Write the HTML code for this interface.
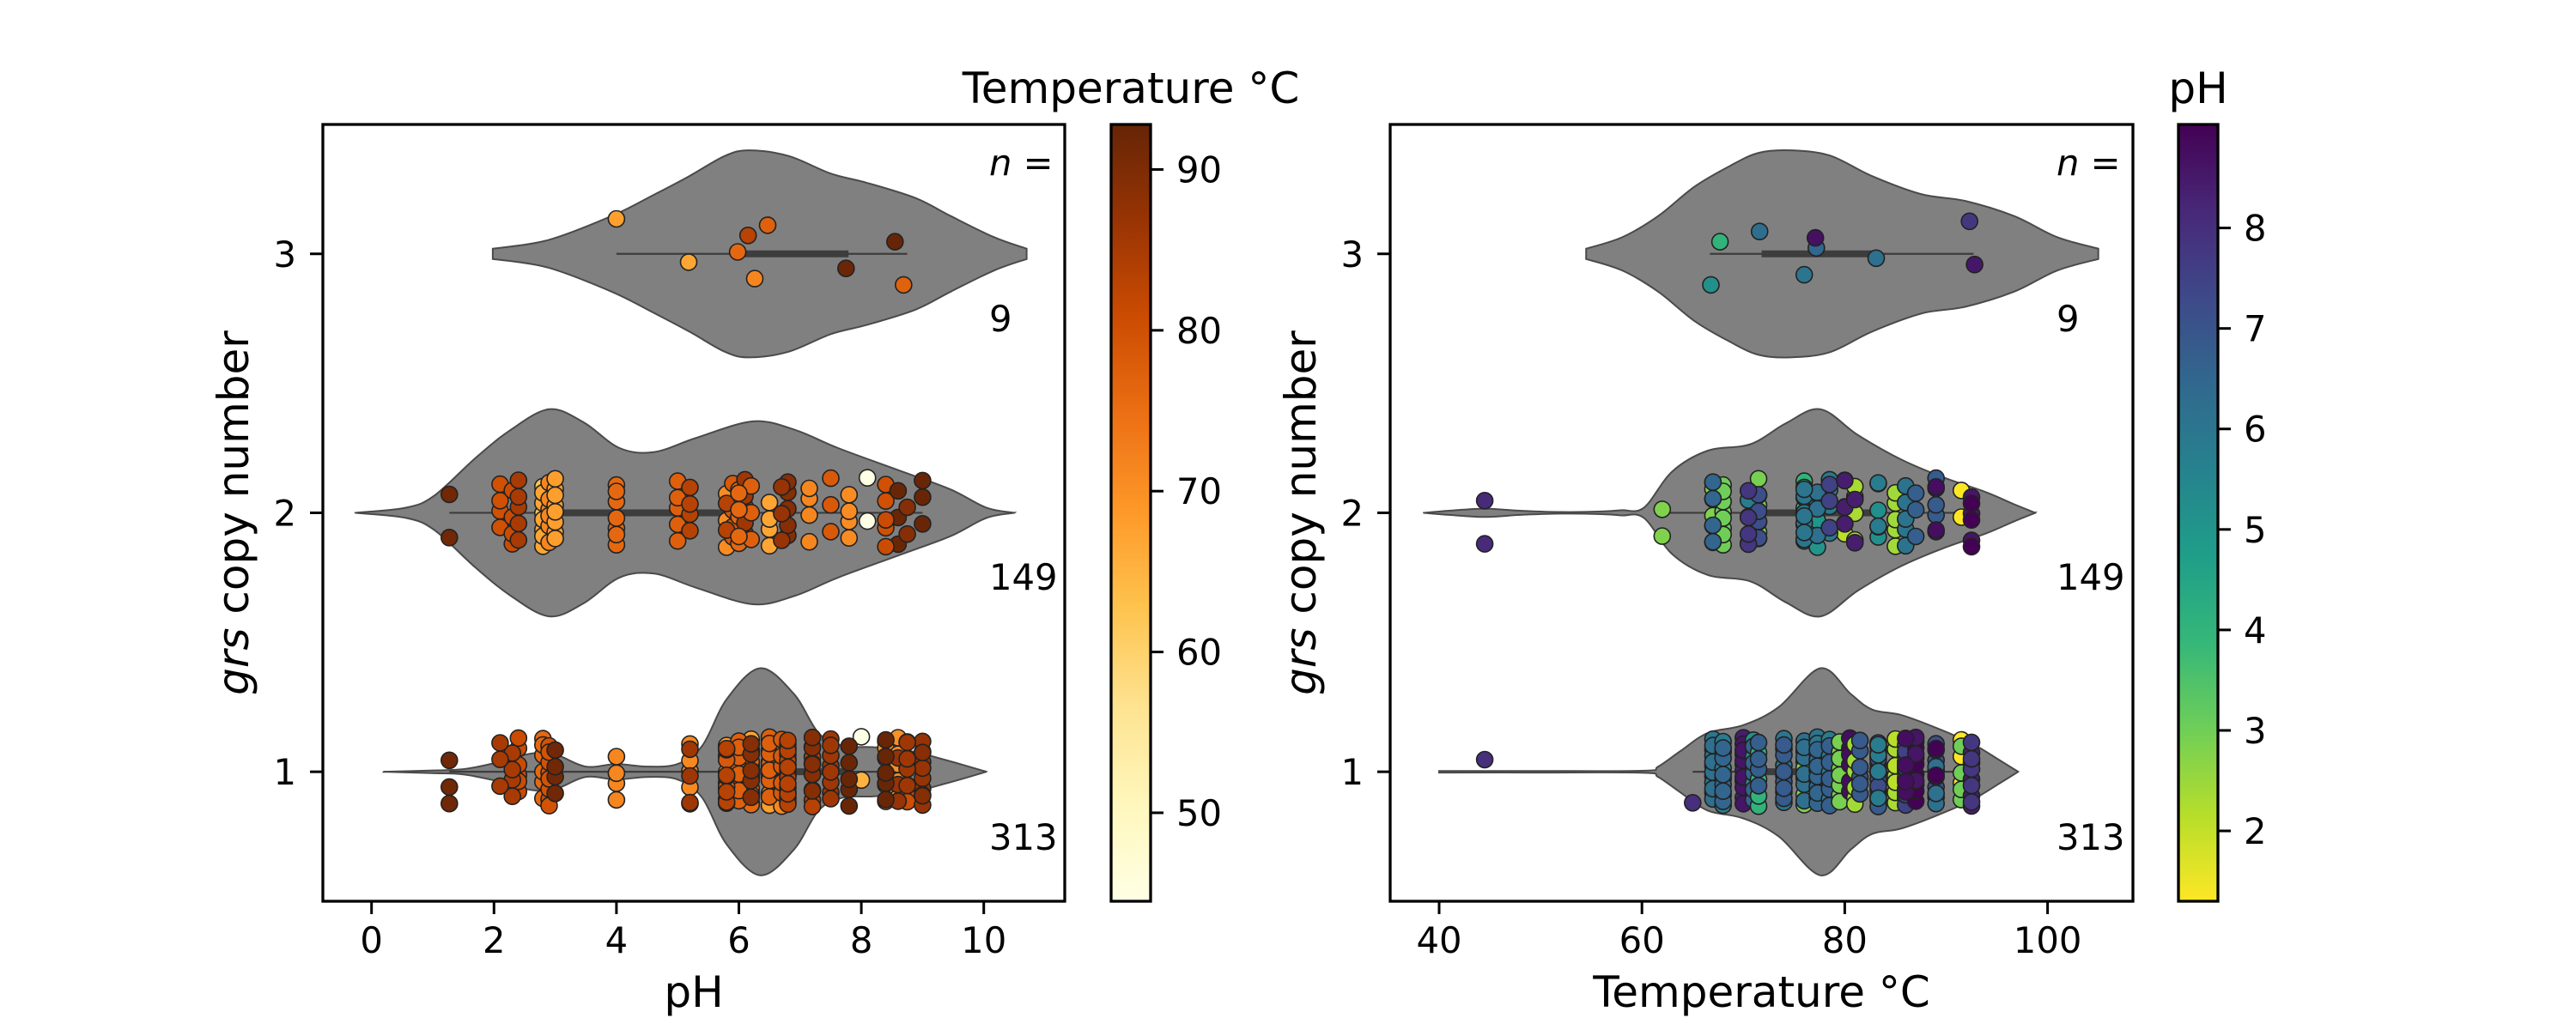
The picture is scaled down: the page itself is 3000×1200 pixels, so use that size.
<!DOCTYPE html>
<html><head><meta charset="utf-8"><style>
html,body{margin:0;padding:0;background:#fff;}
svg{display:block;font-family:"DejaVu Sans","Liberation Sans",sans-serif;}
</style></head><body>
<svg id="fig" width="3000" height="1200" viewBox="0 0 3000 1200" xmlns="http://www.w3.org/2000/svg">
<defs>
<linearGradient id="gradT" x1="0" y1="1" x2="0" y2="0">
<stop offset="0" stop-color="#ffffe5"/><stop offset="0.125" stop-color="#fff7bc"/><stop offset="0.25" stop-color="#fee391"/><stop offset="0.375" stop-color="#fec44f"/><stop offset="0.5" stop-color="#fe9929"/><stop offset="0.625" stop-color="#ec7014"/><stop offset="0.75" stop-color="#cc4c02"/><stop offset="0.875" stop-color="#993404"/><stop offset="1" stop-color="#662506"/>
</linearGradient>
<linearGradient id="gradP" x1="0" y1="0" x2="0" y2="1">
<stop offset="0" stop-color="#440154"/><stop offset="0.111" stop-color="#482878"/><stop offset="0.222" stop-color="#3e4989"/><stop offset="0.333" stop-color="#31688e"/><stop offset="0.444" stop-color="#26828e"/><stop offset="0.555" stop-color="#1f9e89"/><stop offset="0.666" stop-color="#35b779"/><stop offset="0.777" stop-color="#6ece58"/><stop offset="0.888" stop-color="#b5de2b"/><stop offset="1" stop-color="#fde725"/>
</linearGradient>
<clipPath id="clipL"><rect x="376" y="145" width="864" height="905"/></clipPath>
<clipPath id="clipR"><rect x="1619" y="145" width="865" height="905"/></clipPath>
</defs>
<g id="left"></g>
<g id="right"></g>
</svg>
<script>
// ---- data ----
const copyTicks=[1,2,3];
const phTicks=[0,2,4,6,8,10];
const tempTicks=[40,60,80,100];
const tempCbarTicks=[50,60,70,80,90];
const phCbarTicks=[2,3,4,5,6,7,8];
const groups=[3,2,1];
const nLabels=["9","149","313"];
const tempRange=[44.5,92.8];
const phRange=[1.3,9.03];
// violin density outlines (value positions, half widths in copy-number units)
const phViolinX3=[1.98,2.88,3.92,4.61,5.19,5.77,6.17,6.81,7.50,8.08,8.88,9.46,10.16,10.70];
const phViolinW3=[0.02,0.053,0.146,0.228,0.30,0.378,0.40,0.378,0.31,0.275,0.216,0.146,0.065,0.02];
const phViolinX2=[-0.26,0.57,1.03,1.69,2.27,2.90,3.46,4.05,4.62,5.31,6.23,6.92,7.62,8.66,9.46,10.04,10.50];
const phViolinW2=[0,0.02,0.067,0.21,0.32,0.40,0.35,0.25,0.235,0.29,0.353,0.32,0.25,0.16,0.09,0.02,0];
const phViolinX1=[0.2,1.0,1.5,2.0,2.6,3.0,3.5,4.0,4.5,5.0,5.4,5.8,6.35,6.9,7.3,7.7,8.2,8.8,9.4,10.04];
const phViolinW1=[0,0.005,0.01,0.033,0.07,0.067,0.02,0.03,0.02,0.03,0.10,0.28,0.40,0.30,0.15,0.10,0.095,0.08,0.044,0];
const tempViolinX3=[54.5,58.1,61.6,65.2,68.7,71.5,74.6,78.5,82.7,87.6,91.8,96.7,100.9,105.0];
const tempViolinW3=[0.02,0.065,0.146,0.26,0.34,0.39,0.40,0.38,0.30,0.23,0.205,0.146,0.065,0.02];
const tempViolinX2=[38.5,41,44.5,48,52,56,58,60.2,63,66.5,70.7,74.2,77.6,81.3,85.5,89.7,93.9,96.7,98.8];
const tempViolinW2=[0,0.008,0.016,0.008,0.003,0.005,0.01,0.02,0.16,0.24,0.265,0.346,0.40,0.30,0.207,0.137,0.08,0.033,0];
const tempViolinX1=[40,50,60.2,61.6,63.8,66.5,70,73.5,77.6,80.6,82.7,85.5,89,92.5,95.3,97.1];
const tempViolinW1=[0.003,0.003,0.004,0.02,0.08,0.15,0.18,0.25,0.40,0.30,0.24,0.22,0.17,0.11,0.044,0];
// box stats [whiskerLow, q1, q3, whiskerHigh]
const phBox3=[4.0,5.94,7.79,8.75];
const phBox2=[1.27,3.0,5.8,9.0];
const phBox1=[1.27,5.9,7.8,9.0];
const tempBox3=[66.7,71.8,83.3,92.7];
const tempBox2=[62,71.5,83.3,92.5];
const tempBox1=[65,70,82,92.5];
// samples: [pH, temperature, count]
const samples3=[[4.0,67.7,1],[5.18,66.8,1],[6.15,83.1,1],[6.26,71.6,1],[5.98,76.0,1],[6.47,77.2,1],[7.75,92.3,1],[8.55,92.8,1],[8.69,77.1,1]];
const samples2=[[8.1,44.5,2],[1.27,91.5,2],[2.1,80,4],[2.3,81,4],[2.4,85,5],[2.8,62,2],[2.8,67,6],[2.9,71.5,6],[3.0,68,8],[4.0,76,7],[5.0,77.3,5],[5.2,83.3,4],[5.8,70.5,3],[5.9,78.5,4],[6.0,76,4],[6.1,86,5],[6.2,77.3,3],[6.5,67,4],[6.8,89,5],[7.15,71.5,4],[7.5,78.5,3],[7.8,70.5,4],[8.4,80,3],[8.6,92.5,3],[8.75,89,2],[9.0,92.5,3],[6.7,87,3],[5.8,83.3,2],[8.4,81,2],[6.0,76,3]];
const samples1=[[8.0,44.5,1],[8.0,65,1],[6.0,67,6],[6.2,67,6],[5.8,68,6],[6.5,68,6],[8.4,70,6],[8.6,70,6],[5.2,71,5],[6.5,71,5],[4.0,71.5,4],[6.7,71.5,4],[6.0,74,6],[6.8,74,6],[2.8,76,6],[6.2,76,6],[6.0,77.3,8],[6.5,77.3,7],[5.8,78.5,5],[6.7,78.5,5],[2.9,79.5,8],[8.75,80.5,6],[2.4,81,6],[6.8,81.5,6],[6.8,83.3,7],[7.2,83.3,7],[2.3,85,4],[2.1,85,3],[5.2,86,3],[7.5,86,8],[9.0,87,8],[8.6,87,3],[7.2,89,5],[6.2,89,5],[1.27,91.5,3],[3.0,91.5,4],[8.4,92.5,5],[7.8,92.5,5],[9.0,89,2],[8.75,86,4],[5.8,83.3,4]];

// ---- scales ----
const yC=v=>1050-(v-0.5)*301.7;
const xL=v=>432.7+v*71.3;
const xR=v=>1676+(v-40)*11.81;
const NS="http://www.w3.org/2000/svg";
function mk(tag,attrs,parent){const e=document.createElementNS(NS,tag);for(const k in attrs)e.setAttribute(k,attrs[k]);parent.appendChild(e);return e;}
function lerpStops(stops,t){t=Math.max(0,Math.min(1,t));const n=stops.length-1;const i=Math.min(n-1,Math.floor(t*n));const f=t*n-i;
 const a=stops[i],b=stops[i+1];const h=s=>[parseInt(s.slice(1,3),16),parseInt(s.slice(3,5),16),parseInt(s.slice(5,7),16)];
 const A=h(a),B=h(b);return "rgb("+A.map((c,k)=>Math.round(c+(B[k]-c)*f)).join(",")+")";}
const ylorbr=["#ffffe5","#fff7bc","#fee391","#fec44f","#fe9929","#ec7014","#cc4c02","#993404","#662506"];
const viridis=["#440154","#482878","#3e4989","#31688e","#26828e","#1f9e89","#35b779","#6ece58","#b5de2b","#fde725"];
const tempColor=t=>lerpStops(ylorbr,(t-tempRange[0])/(tempRange[1]-tempRange[0]));
const phColor=p=>lerpStops(viridis,1-(p-phRange[0])/(phRange[1]-phRange[0]));

function smoothPath(pts){let d="M"+pts[0][0]+","+pts[0][1];
 for(let i=0;i<pts.length-1;i++){const p0=pts[Math.max(0,i-1)],p1=pts[i],p2=pts[i+1],p3=pts[Math.min(pts.length-1,i+2)];
  const c1=[p1[0]+(p2[0]-p0[0])/6,p1[1]+(p2[1]-p0[1])/6],c2=[p2[0]-(p3[0]-p1[0])/6,p2[1]-(p3[1]-p1[1])/6];
  d+=" C"+c1[0].toFixed(1)+","+c1[1].toFixed(1)+" "+c2[0].toFixed(1)+","+c2[1].toFixed(1)+" "+p2[0].toFixed(1)+","+p2[1].toFixed(1);}
 return d;}
function violin(g,xs,ws,sx,grp,name){
 const up=xs.map((v,i)=>[sx(v),yC(grp)-ws[i]*301.7]);
 const lo=xs.map((v,i)=>[sx(v),yC(grp)+ws[i]*301.7]).reverse();
 const d=smoothPath(up)+" L"+lo[0][0]+","+lo[0][1]+smoothPath(lo).replace(/^M[^ C]+/,"")+" Z";
 const p=mk("path",{d:d,fill:"#808080",stroke:"#4a4a4a","stroke-width":"2"},g);
 
 
}
function box(g,b,sx,grp,name){
 const y=yC(grp);
 const w=mk("line",{x1:sx(b[0]),x2:sx(b[3]),y1:y,y2:y,stroke:"#3d3d3d","stroke-width":"2.2"},g);
 
 
 const r=mk("line",{x1:sx(b[1]),x2:sx(b[2]),y1:y,y2:y,stroke:"#3d3d3d","stroke-width":"8"},g);
 
 
}
function points(g,samples,grp,byPh,seed,name){
 let i=0;
 samples.forEach(s=>{for(let k=0;k<s[2];k++){
  const j=((((i+seed)*0.6180339887)%1)-0.5)*0.27;i++;
  const cx=byPh?xL(s[0]):xR(s[1]);
  const fill=byPh?tempColor(s[1]):phColor(s[0]);
  const c=mk("circle",{cx:cx.toFixed(1),cy:(yC(grp)+j*301.7).toFixed(1),r:"9.5",fill:fill,stroke:"#222","stroke-width":"1.6"},g);
  
  
 }});
}
function text(g,x,y,str,size,anchor,name,extra){
 const t=mk("text",Object.assign({x:x,y:y,"font-size":size,"text-anchor":anchor,fill:"#000"},extra||{}),g);
 t.textContent=str;
 
 
 return t;
}
function panel(g,ax0,ax1,sx,ticks,xlabel,clip,vx,vw,boxes,byPh,cbX,cbGrad,cbTicks,cbScale,cbTitle){
 const pg=mk("g",{"clip-path":"url(#"+clip+")"},g);
 
 
 const all=[samples3,samples2,samples1];
 groups.forEach((grp,gi)=>{
  violin(pg,vx[gi],vw[gi],sx,grp,'violin-'+grp);
  box(pg,boxes[gi],sx,grp,'boxplot-'+grp);
 });
 groups.forEach((grp,gi)=>points(pg,all[gi],grp,byPh,byPh?0:7,'point-copy'+grp));
 const fr=mk("rect",{x:ax0,y:145,width:ax1-ax0,height:905,fill:"none",stroke:"#000","stroke-width":"3.3"},g);
 
 
 ticks.forEach(t=>{
  const l=mk("line",{x1:sx(t),x2:sx(t),y1:1050,y2:1065,stroke:"#000","stroke-width":"3"},g);
  
  
  text(g,sx(t),1110,String(t),41.7,"middle",'x-tick-label');
 });
 copyTicks.forEach(t=>{
  const l=mk("line",{x1:ax0-15,x2:ax0,y1:yC(t),y2:yC(t),stroke:"#000","stroke-width":"3"},g);
  
  
  text(g,ax0-31,yC(t)+15,String(t),41.7,"end",'y-tick-label');
 });
 text(g,(ax0+ax1)/2,1173,xlabel,50,"middle",'x-axis-title');
 const yl=mk("text",{x:0,y:0,"font-size":50,"text-anchor":"middle",transform:"translate("+(ax0-87)+",597.5) rotate(-90)"},g);
 
 
 const it=mk("tspan",{"font-style":"italic"},yl);it.textContent="grs";
 const rs=mk("tspan",{},yl);rs.textContent=" copy number";
 const nl=mk("text",{x:ax0+776,y:204,"font-size":41.7},g);
 
 
 const ni=mk("tspan",{"font-style":"italic"},nl);ni.textContent="n";
 const ne=mk("tspan",{},nl);ne.textContent=" =";
 const ny=[386,687,990];
 nLabels.forEach((s,i)=>text(g,ax0+776,ny[i],s,41.7,"start",'n-count-'+groups[i]));
 // colorbar
 const cb=mk("rect",{x:cbX,y:145,width:46,height:905,fill:"url(#"+cbGrad+")",stroke:"#000","stroke-width":"3.3"},g);
 
 
 cbTicks.forEach(t=>{
  const y=cbScale(t);
  const l=mk("line",{x1:cbX+46,x2:cbX+61,y1:y,y2:y,stroke:"#000","stroke-width":"3"},g);
  
  
  text(g,cbX+76,y+15,String(t),41.7,"start",'colorbar-tick-label');
 });
 text(g,cbX+23,120,cbTitle,50,"middle",'colorbar-title');
}
const tScale=t=>1050-(t-tempRange[0])/(tempRange[1]-tempRange[0])*905;
const pScale=p=>1050-(p-phRange[0])/(phRange[1]-phRange[0])*905;
panel(document.getElementById("left"),376,1240,xL,phTicks,"pH","clipL",
 [phViolinX3,phViolinX2,phViolinX1],[phViolinW3,phViolinW2,phViolinW1],[phBox3,phBox2,phBox1],true,1294,"gradT",tempCbarTicks,tScale,"Temperature °C");
panel(document.getElementById("right"),1619,2484,xR,tempTicks,"Temperature °C","clipR",
 [tempViolinX3,tempViolinX2,tempViolinX1],[tempViolinW3,tempViolinW2,tempViolinW1],[tempBox3,tempBox2,tempBox1],false,2537,"gradP",phCbarTicks,pScale,"pH");
</script>
</body></html>
